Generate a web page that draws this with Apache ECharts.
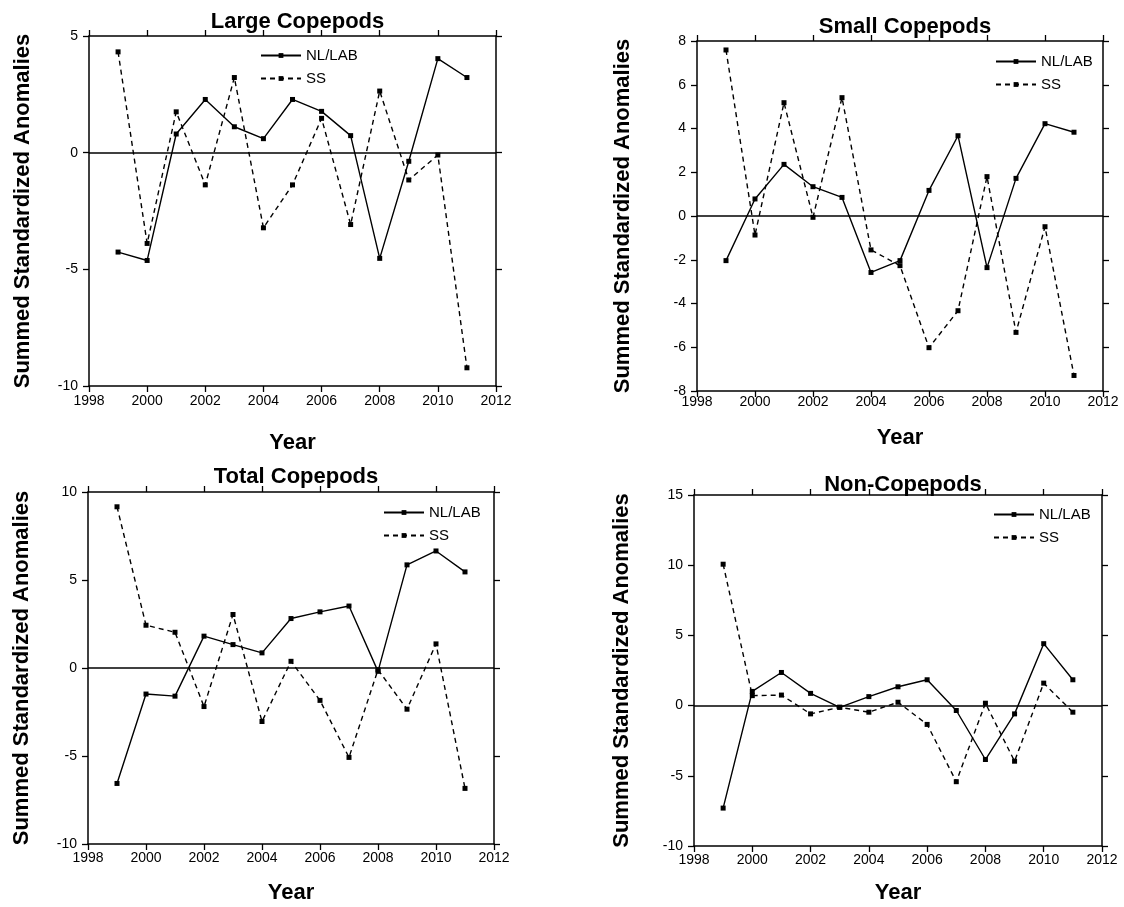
<!DOCTYPE html>
<html>
<head>
<meta charset="utf-8">
<script src="https://cdn.jsdelivr.net/npm/echarts@6/dist/echarts.min.js"></script>
<style>
html,body{margin:0;padding:0;background:#fff;}
#chart{width:1124px;height:907px;}
</style>
</head>
<body>
<div id="chart"></div>
<script>
// ---------- data ----------
const years = [1999, 2000, 2001, 2002, 2003, 2004, 2005, 2006, 2007, 2008, 2009, 2010, 2011];
const seriesNames = ['NL/LAB', 'SS'];
const panelTitles = ['Large Copepods', 'Small Copepods', 'Total Copepods', 'Non-Copepods'];

const largeNL = [-4.26, -4.62, 0.80, 2.28, 1.11, 0.60, 2.28, 1.77, 0.73, -4.53, -0.37, 4.03, 3.22];
const largeSS = [4.32, -3.89, 1.75, -1.38, 3.22, -3.22, -1.38, 1.47, -3.08, 2.64, -1.17, -0.10, -9.22];

const smallNL = [-2.04, 0.78, 2.36, 1.34, 0.85, -2.58, -2.04, 1.17, 3.67, -2.36, 1.72, 4.22, 3.83];
const smallSS = [7.59, -0.87, 5.18, -0.06, 5.41, -1.55, -2.27, -6.02, -4.33, 1.80, -5.32, -0.49, -7.29];

const totalNL = [-6.56, -1.48, -1.60, 1.81, 1.33, 0.86, 2.81, 3.19, 3.52, -0.19, 5.86, 6.65, 5.46];
const totalSS = [9.16, 2.43, 2.03, -2.19, 3.04, -3.04, 0.38, -1.84, -5.08, -0.10, -2.34, 1.37, -6.84];

const nonNL = [-7.30, 1.01, 2.36, 0.87, -0.12, 0.64, 1.34, 1.84, -0.35, -3.84, -0.59, 4.41, 1.84];
const nonSS = [10.07, 0.71, 0.75, -0.59, -0.12, -0.47, 0.24, -1.34, -5.42, 0.17, -3.96, 1.60, -0.47];

const xMin = 1998, xMax = 2012, xStep = 2;
const yMins = [-10, -8, -10, -10];
const yMaxs = [5, 8, 10, 15];
const ySteps = [5, 2, 5, 5];

const panelData = [[largeNL, largeSS], [smallNL, smallSS], [totalNL, totalSS], [nonNL, nonSS]];

// ---------- layout ----------
const grids = [
  {left: 89, top: 36, width: 407, height: 350},
  {left: 697, top: 41, width: 406, height: 350},
  {left: 88, top: 492, width: 406, height: 352},
  {left: 694, top: 495, width: 408, height: 351}
];
const titleTops = [6, 11, 461, 469];
const yNameGaps = [55, 63, 55, 61];
const xNameGaps = [46, 36, 38, 36];
const xLabelMargins = [8, 4, 7, 7];
const legendPos = [
  {left: 260, top: 48},
  {left: 995, top: 54},
  {left: 383, top: 505},
  {left: 993, top: 507}
];

const FONT = '"Liberation Sans", Arial, sans-serif';
const black = '#000';
const axisLine = {show: true, onZero: false, lineStyle: {color: black, width: 1.5}};
const axisTick = {show: true, inside: false, length: 6, lineStyle: {color: black, width: 1.3}};

const option = {
  backgroundColor: '#fff',
  animation: false,
  title: [], grid: [], xAxis: [], yAxis: [], legend: [], series: []
};

grids.forEach((g, i) => {
  option.grid.push({left: g.left, top: g.top, width: g.width, height: g.height, containLabel: false});
  option.title.push({
    text: panelTitles[i],
    left: g.left + g.width / 2,
    top: titleTops[i],
    textAlign: 'center',
    textStyle: {fontFamily: FONT, fontSize: 22, fontWeight: 'bold', color: black}
  });
  // bottom x axis
  option.xAxis.push({
    type: 'value', gridIndex: i, position: 'bottom',
    min: xMin, max: xMax, interval: xStep,
    name: 'Year', nameLocation: 'middle', nameGap: xNameGaps[i],
    nameTextStyle: {fontFamily: FONT, fontSize: 22, fontWeight: 'bold', color: black},
    axisLine: axisLine, axisTick: axisTick,
    axisLabel: {fontFamily: FONT, fontSize: 14, color: black, margin: xLabelMargins[i], formatter: v => String(v)},
    splitLine: {show: false}
  });
  // top x axis (frame)
  option.xAxis.push({
    type: 'value', gridIndex: i, position: 'top',
    min: xMin, max: xMax, interval: xStep,
    axisLine: axisLine, axisTick: axisTick,
    axisLabel: {show: false}, splitLine: {show: false}
  });
  // left y axis
  option.yAxis.push({
    type: 'value', gridIndex: i, position: 'left',
    min: yMins[i], max: yMaxs[i], interval: ySteps[i],
    name: 'Summed Standardized Anomalies', nameLocation: 'middle', nameGap: yNameGaps[i],
    nameTextStyle: {fontFamily: FONT, fontSize: 22, fontWeight: 'bold', color: black},
    axisLine: axisLine, axisTick: axisTick,
    axisLabel: {fontFamily: FONT, fontSize: 14, color: black, margin: 11},
    splitLine: {show: false}
  });
  // right y axis (frame)
  option.yAxis.push({
    type: 'value', gridIndex: i, position: 'right',
    min: yMins[i], max: yMaxs[i], interval: ySteps[i],
    axisLine: axisLine, axisTick: axisTick,
    axisLabel: {show: false}, splitLine: {show: false}
  });

  option.legend.push({
    data: seriesNames,
    orient: 'vertical',
    left: legendPos[i].left, top: legendPos[i].top,
    itemWidth: 40, itemHeight: 6, itemGap: 8,
    padding: 0,
    selectedMode: false,
    textStyle: {fontFamily: FONT, fontSize: 15, color: black, lineHeight: 14}
  });

  panelData[i].forEach((arr, k) => {
    const s = {
      name: seriesNames[k],
      type: 'line',
      xAxisIndex: 2 * i, yAxisIndex: 2 * i,
      data: years.map((y, j) => [y, arr[j]]),
      symbol: 'rect', symbolSize: 5, showSymbol: true,
      itemStyle: {color: black},
      lineStyle: {color: black, width: 1.4, type: k === 0 ? 'solid' : [5, 4]},
      z: 3
    };
    if (k === 0) {
      s.markLine = {
        silent: true, symbol: ['none', 'none'],
        label: {show: false},
        lineStyle: {color: black, type: 'solid', width: 1.5},
        data: [{yAxis: 0}]
      };
    }
    option.series.push(s);
  });
});

const chart = echarts.init(document.getElementById('chart'), null, {renderer: 'canvas'});
chart.setOption(option);
</script>
</body>
</html>
